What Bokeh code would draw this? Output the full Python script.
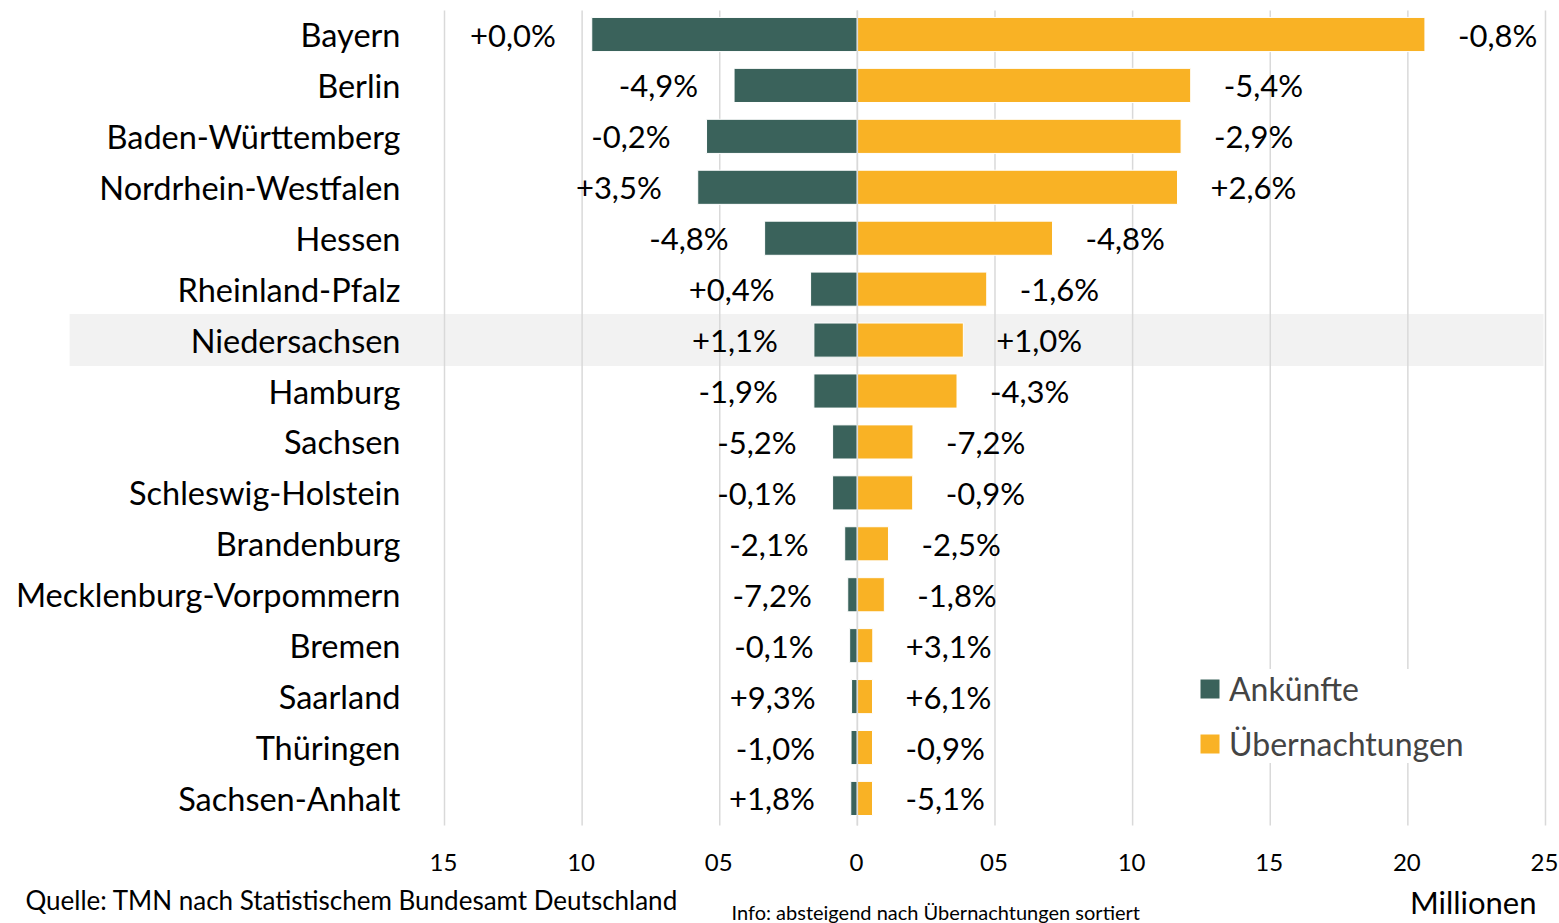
from bokeh.plotting import figure
from bokeh.models import Range1d, Legend, LegendItem, Label, ColumnDataSource
from bokeh.core.properties import value
from bokeh.embed import file_html
from bokeh.resources import INLINE

categories = ["Bayern", "Berlin", "Baden-Württemberg", "Nordrhein-Westfalen", "Hessen",
              "Rheinland-Pfalz", "Niedersachsen", "Hamburg", "Sachsen", "Schleswig-Holstein",
              "Brandenburg", "Mecklenburg-Vorpommern", "Bremen", "Saarland", "Thüringen",
              "Sachsen-Anhalt"]
ankuenfte = [9.65, 4.48, 5.48, 5.80, 3.37, 1.70, 1.58, 1.58, 0.90, 0.90,
             0.46, 0.35, 0.28, 0.21, 0.23, 0.24]
uebernachtungen = [20.62, 12.11, 11.76, 11.63, 7.09, 4.70, 3.85, 3.62, 2.02, 2.01,
                   1.13, 0.98, 0.56, 0.55, 0.55, 0.55]
ank_change = ["+0,0%", "-4,9%", "-0,2%", "+3,5%", "-4,8%", "+0,4%", "+1,1%", "-1,9%",
              "-5,2%", "-0,1%", "-2,1%", "-7,2%", "-0,1%", "+9,3%", "-1,0%", "+1,8%"]
ueb_change = ["-0,8%", "-5,4%", "-2,9%", "+2,6%", "-4,8%", "-1,6%", "+1,0%", "-4,3%",
              "-7,2%", "-0,9%", "-2,5%", "-1,8%", "+3,1%", "+6,1%", "-0,9%", "-5,1%"]
highlight = "Niedersachsen"
tick_values = [-15, -10, -5, 0, 5, 10, 15, 20, 25]
tick_labels = ["15", "10", "05", "0", "05", "10", "15", "20", "25"]

GREEN = "#3A625B"
YELLOW = "#F9B225"
GRID = "#D9D9D9"
FONT = value("Lato")

rows = list(range(len(categories)))
n = len(categories)
src = ColumnDataSource(dict(
    y=rows,
    cat=categories,
    ank_left=[-v for v in ankuenfte],
    ueb=uebernachtungen,
    ank_txt=ank_change,
    ueb_txt=ueb_change,
))

# whole canvas is the plot frame; rows run top -> bottom
p = figure(width=1559, height=923, output_backend="svg", toolbar_location=None,
           x_range=Range1d(-31.131, 25.509), y_range=Range1d(17.455, -0.6676),
           x_axis_location=None, y_axis_location=None,
           min_border_left=0, min_border_right=0, min_border_top=0, min_border_bottom=0)
p.outline_line_color = None
p.background_fill_color = "white"
p.border_fill_color = "white"
p.xgrid.visible = False
p.ygrid.visible = False

top_edge, bottom_edge = -0.47, n - 0.47

# highlight band
hi = categories.index(highlight)
p.hbar(y=[hi], left=[-28.62], right=[24.93], height=1.02,
       fill_color="#F2F2F2", line_color=None)

# vertical grid lines at the ticks
p.segment(x0=tick_values, x1=tick_values, y0=[top_edge] * len(tick_values),
          y1=[bottom_edge] * len(tick_values), line_color=GRID, line_width=1.5)

r1 = p.hbar(y="y", left="ank_left", right=0, height=0.67, source=src,
            fill_color=GREEN, line_color="white", line_width=1)
r2 = p.hbar(y="y", left=0, right="ueb", height=0.67, source=src,
            fill_color=YELLOW, line_color="white", line_width=1)
# zero line visible between the two bar series
p.segment(x0=[0], x1=[0], y0=[top_edge], y1=[bottom_edge], line_color=GRID, line_width=1.5)

# tick labels
p.text(x=tick_values, y=[16.258] * len(tick_values), text=tick_labels, x_offset=-1,
       text_align="center", text_baseline="middle", text_font=FONT,
       text_font_size="24px", text_color="black")

# category labels
p.text(x=-15, y="y", text="cat", source=src, x_offset=-44, text_align="right",
       text_baseline="middle", text_font=FONT, text_font_size="32.5px", text_color="black")
# percent labels
p.text(x="ank_left", y="y", text="ank_txt", source=src, x_offset=-36, text_align="right",
       text_baseline="middle", text_font=FONT, text_font_size="31px", text_color="black")
p.text(x="ueb", y="y", text="ueb_txt", source=src, x_offset=33, text_align="left",
       text_baseline="middle", text_font=FONT, text_font_size="31px", text_color="black")

legend = Legend(items=[LegendItem(label="Ankünfte", renderers=[r1]),
                       LegendItem(label="Übernachtungen", renderers=[r2])],
                location=(1197, 160), orientation="vertical",
                glyph_width=25, glyph_height=25, label_standoff=7,
                label_text_font="Lato", label_text_font_size="32px",
                label_height=36, spacing=16, padding=10,
                border_line_color=None, background_fill_color="white",
                background_fill_alpha=1.0)
p.add_layout(legend)

p.add_layout(Label(x=25, y=24, x_units="screen", y_units="screen",
                   text="Quelle: TMN nach Statistischem Bundesamt Deutschland",
                   text_font="Lato", text_font_size="26px", text_baseline="alphabetic",
                   text_color="black"))
p.add_layout(Label(x=731, y=12, x_units="screen", y_units="screen",
                   text="Info: absteigend nach Übernachtungen sortiert",
                   text_font="Lato", text_font_size="20px", text_baseline="alphabetic",
                   text_color="black"))
p.add_layout(Label(x=1536, y=22, x_units="screen", y_units="screen",
                   text="Millionen", text_align="right",
                   text_font="Lato", text_font_size="31px", text_baseline="alphabetic",
                   text_color="black"))

open("out.html", "w").write(file_html(p, INLINE))
